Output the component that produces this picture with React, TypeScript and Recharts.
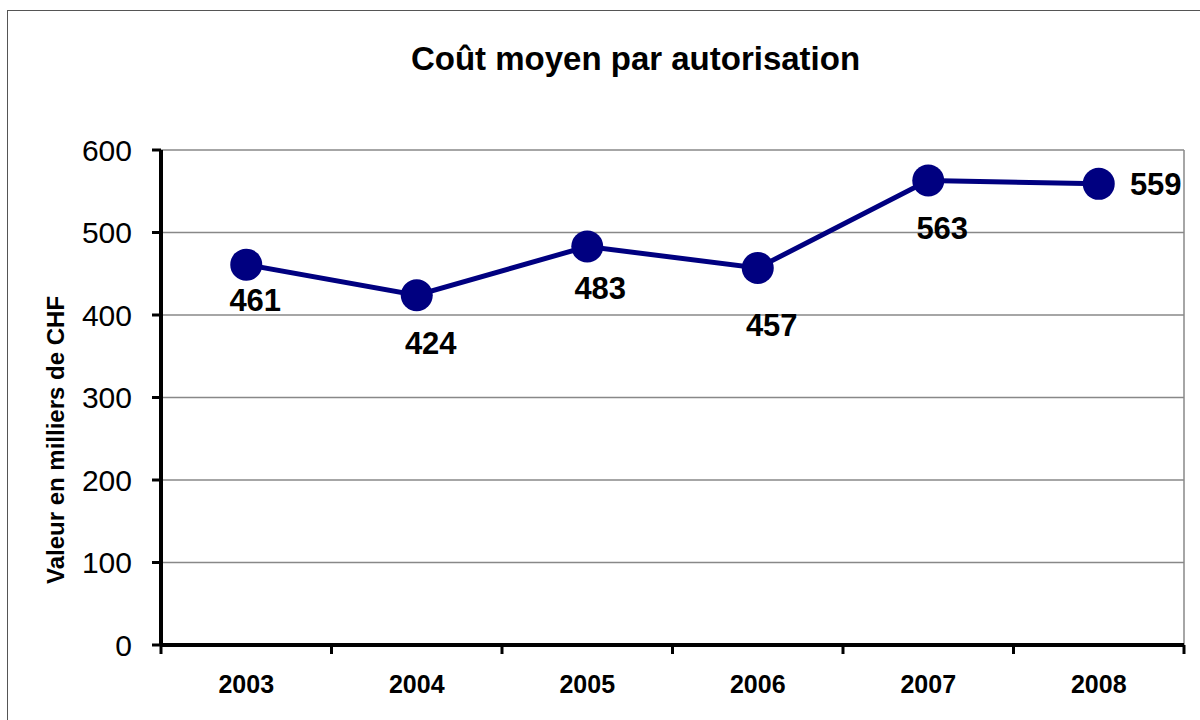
import React from "react";
import { LineChart, Line, XAxis, YAxis, CartesianGrid } from "recharts";

const years = ["2003", "2004", "2005", "2006", "2007", "2008"];
const costs = [461, 424, 483, 457, 563, 559];
const yTicks = [0, 100, 200, 300, 400, 500, 600];

// label placement offsets (dx, dy) relative to each point, layout only
const labelDx = [9, 14, 13, 14, 14, 57];
const labelDy = [36, 48, 42, 58, 48, 1];

const data = years.map((y, i) => ({ year: y, value: costs[i] }));

const FONT = "'Liberation Sans', Arial, Helvetica, sans-serif";
const NAVY = "#000080";

const XTick = (props: any) => {
  const { x, y, payload, index } = props;
  const half = payload && payload.offset ? payload.offset : 85.25;
  const isLast = index === years.length - 1;
  return (
    <g>
      <line x1={x - half} x2={x - half} y1={y} y2={y + 9} stroke="#000" strokeWidth={3} />
      {isLast && (
        <line x1={x + half} x2={x + half} y1={y} y2={y + 9} stroke="#000" strokeWidth={3} />
      )}
      <text
        x={x}
        y={y + 48}
        textAnchor="middle"
        fontFamily={FONT}
        fontWeight="bold"
        fontSize={25}
        fill="#000"
      >
        {payload.value}
      </text>
    </g>
  );
};

const PointLabel = (props: any) => {
  const { x, y, value, index } = props;
  return (
    <text
      x={x + labelDx[index]}
      y={y + labelDy[index]}
      textAnchor="middle"
      dominantBaseline="central"
      fontFamily={FONT}
      fontWeight="bold"
      fontSize={31}
      fill="#000"
    >
      {value}
    </text>
  );
};

export default function App() {
  return (
    <div
      style={{
        position: "absolute",
        left: 0,
        top: 0,
        width: 1200,
        height: 720,
        overflow: "hidden",
        background: "#fff",
        fontFamily: FONT,
      }}
    >
      <div
        style={{
          position: "absolute",
          left: 7,
          top: 10,
          width: 1300,
          height: 800,
          borderLeft: "1.5px solid #555",
          borderTop: "1.5px solid #555",
        }}
      />
      <div
        style={{
          position: "absolute",
          left: 0,
          top: 42,
          width: 1271,
          textAlign: "center",
          fontSize: 33,
          lineHeight: "33px",
          fontWeight: "bold",
          color: "#000",
          whiteSpace: "nowrap",
        }}
      >
        Coût moyen par autorisation
      </div>
      <div
        style={{
          position: "absolute",
          left: 56,
          top: 440,
          transform: "translate(-50%, -50%) rotate(-90deg)",
          fontSize: 24,
          lineHeight: "24px",
          fontWeight: "bold",
          whiteSpace: "nowrap",
          color: "#000",
        }}
      >
        Valeur en milliers de CHF
      </div>
      <div style={{ position: "absolute", left: 0, top: 0 }}>
        <LineChart
          width={1200}
          height={720}
          data={data}
          margin={{ top: 150, right: 16, bottom: 0, left: 0 }}
        >
          <CartesianGrid
            stroke="#888"
            strokeWidth={1.5}
            verticalCoordinatesGenerator={({ offset }: any) => [offset.left + offset.width]}
          />
          <XAxis
            dataKey="year"
            scale="band"
            height={75}
            axisLine={{ stroke: "#000", strokeWidth: 4 }}
            tickLine={false}
            tickSize={0}
            tickMargin={0}
            tick={<XTick />}
            interval={0}
          />
          <YAxis
            width={161}
            domain={[0, 600]}
            ticks={yTicks}
            axisLine={{ stroke: "#000", strokeWidth: 4 }}
            tickLine={{ stroke: "#000", strokeWidth: 3 }}
            tickSize={9}
            tickMargin={20}
            tick={{ fill: "#000", fontSize: 30, fontFamily: FONT }}
          />
          <Line
            type="linear"
            dataKey="value"
            stroke={NAVY}
            strokeWidth={5}
            dot={{ r: 16, fill: NAVY, stroke: NAVY, strokeWidth: 0 }}
            activeDot={false}
            label={<PointLabel />}
            isAnimationActive={false}
          />
        </LineChart>
      </div>
    </div>
  );
}
